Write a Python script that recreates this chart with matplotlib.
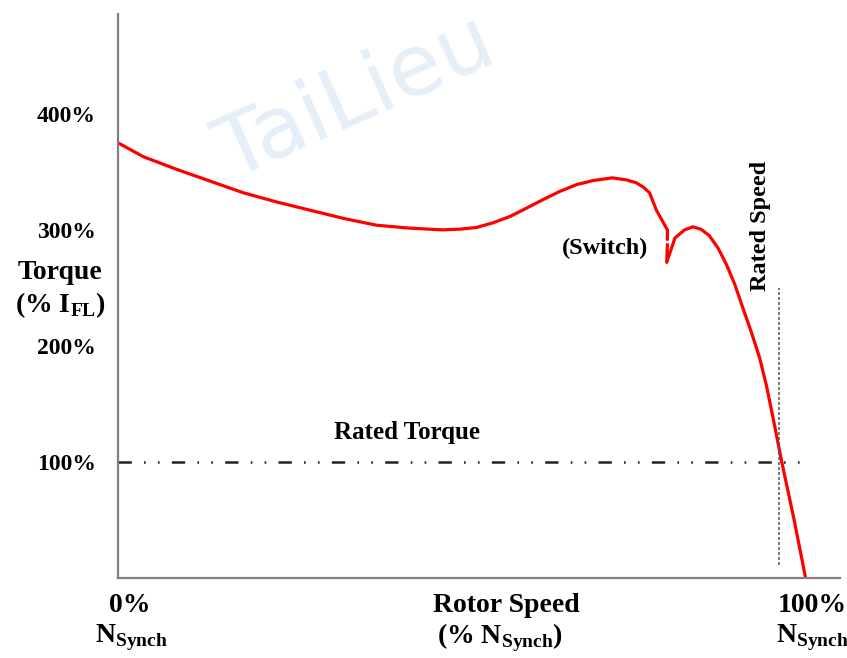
import matplotlib
matplotlib.use("Agg")
import matplotlib.pyplot as plt

plt.rcParams['font.family'] = ['Liberation Serif', 'DejaVu Serif']
plt.rcParams['font.weight'] = 'bold'
plt.rcParams['mathtext.fontset'] = 'custom'
plt.rcParams['mathtext.rm'] = 'Liberation Serif:bold'
plt.rcParams['mathtext.bf'] = 'Liberation Serif:bold'
plt.rcParams['lines.scale_dashes'] = False

# torque curve (speed %, torque %)
speed_a = [0, 3.7, 8.6, 13.4, 18.2, 23.1, 27.9, 32.7, 37.6, 42.4, 47.2, 49.7, 52.1,
           54.5, 57.0, 59.4, 61.8, 64.2, 66.7, 69.1, 71.9, 73.9, 75.4, 76.4, 77.3,
           78.3, 79.9, 79.9]
torque_a = [375, 363, 352, 342, 332, 324, 317, 310, 304, 301.5, 300, 300.6, 302,
            306, 311.5, 318.7, 326, 333, 339, 342.5, 344.8, 343.1, 340.5, 336.8, 332,
            317, 300, 292]
# after the switch
speed_b = [79.9, 79.8, 81.0, 82.4, 83.6, 84.8, 86.0, 87.3, 88.5, 89.7, 90.8, 92.1,
           93.3, 94.3, 95.2, 96.5, 98.3, 100]
torque_b = [287, 272, 293, 300, 302.6, 300.5, 295, 284, 270, 253, 234, 212,
            190, 166, 140, 101, 51, 0]

rated_torque = 100
rated_speed = 96.2
ytick_vals = [100, 200, 300, 400]
ytick_labels = ["100%", "200%", "300%", "400%"]

fig = plt.figure(figsize=(8.47, 6.58), dpi=100)
ax = fig.add_axes([0.1393, 0.1216, 0.8524, 0.8571])
ax.set_xlim(0, 105)
ax.set_ylim(0, 486)

# faint watermark
fig.text(0.42, 0.85, "TaiLieu", fontsize=62, fontweight='normal', family='DejaVu Sans',
         color='#e6eff7', rotation=24, ha='center', va='center', zorder=0)

ax.plot(speed_a, torque_a, color='#ff0000', lw=2.3, solid_joinstyle='round')
ax.plot(speed_b, torque_b, color='#ff0000', lw=2.3, solid_joinstyle='round')

ax.plot([0, 100], [rated_torque, rated_torque], color='#222222', lw=1.8,
        linestyle=(0, (9.6, 8.8, 1.2, 8.8, 1.2, 8.8)))
ax.plot([rated_speed, rated_speed], [11, 250], color='#555555', lw=1.1,
        linestyle=(0, (2.2, 1.4)))

for s in ['top', 'right']:
    ax.spines[s].set_visible(False)
for s in ['left', 'bottom']:
    ax.spines[s].set_color('#808080')
    ax.spines[s].set_linewidth(1.6)

ax.set_xticks([])
ax.set_yticks(ytick_vals)
ax.set_yticklabels(ytick_labels, fontsize=17)
ax.tick_params(axis='y', length=0, pad=16)

ax.text(42, 125, "Rated Torque", fontsize=18, ha='center', va='center')
ax.text(70.8, 284, "(Switch)", fontsize=17.5, ha='center', va='center')
ax.text(93.5, 303, "Rated Speed", fontsize=17.5, ha='center', va='center', rotation=90)

fig.text(60 / 847, 1 - 272 / 658, "Torque", fontsize=20, ha='center', va='center')
fig.text(60 / 847, 1 - 305 / 658, r"(% I$_{\mathbf{FL}}$)", fontsize=20, ha='center', va='center')

top_y = 1 - 606 / 658
bot_y = 1 - 638 / 658
fig.text(130 / 847, top_y, "0%", fontsize=20, ha='center', va='center')
fig.text(131 / 847, bot_y, r"N$_{\mathbf{Synch}}$", fontsize=20, ha='center', va='center')
fig.text(506 / 847, top_y, "Rotor Speed", fontsize=20, ha='center', va='center')
fig.text(500 / 847, bot_y, r"(% N$_{\mathbf{Synch}}$)", fontsize=20, ha='center', va='center')
fig.text(812 / 847, top_y, "100%", fontsize=20, ha='center', va='center')
fig.text(812 / 847, bot_y, r"N$_{\mathbf{Synch}}$", fontsize=20, ha='center', va='center')

fig.savefig("out.png", dpi=100)
